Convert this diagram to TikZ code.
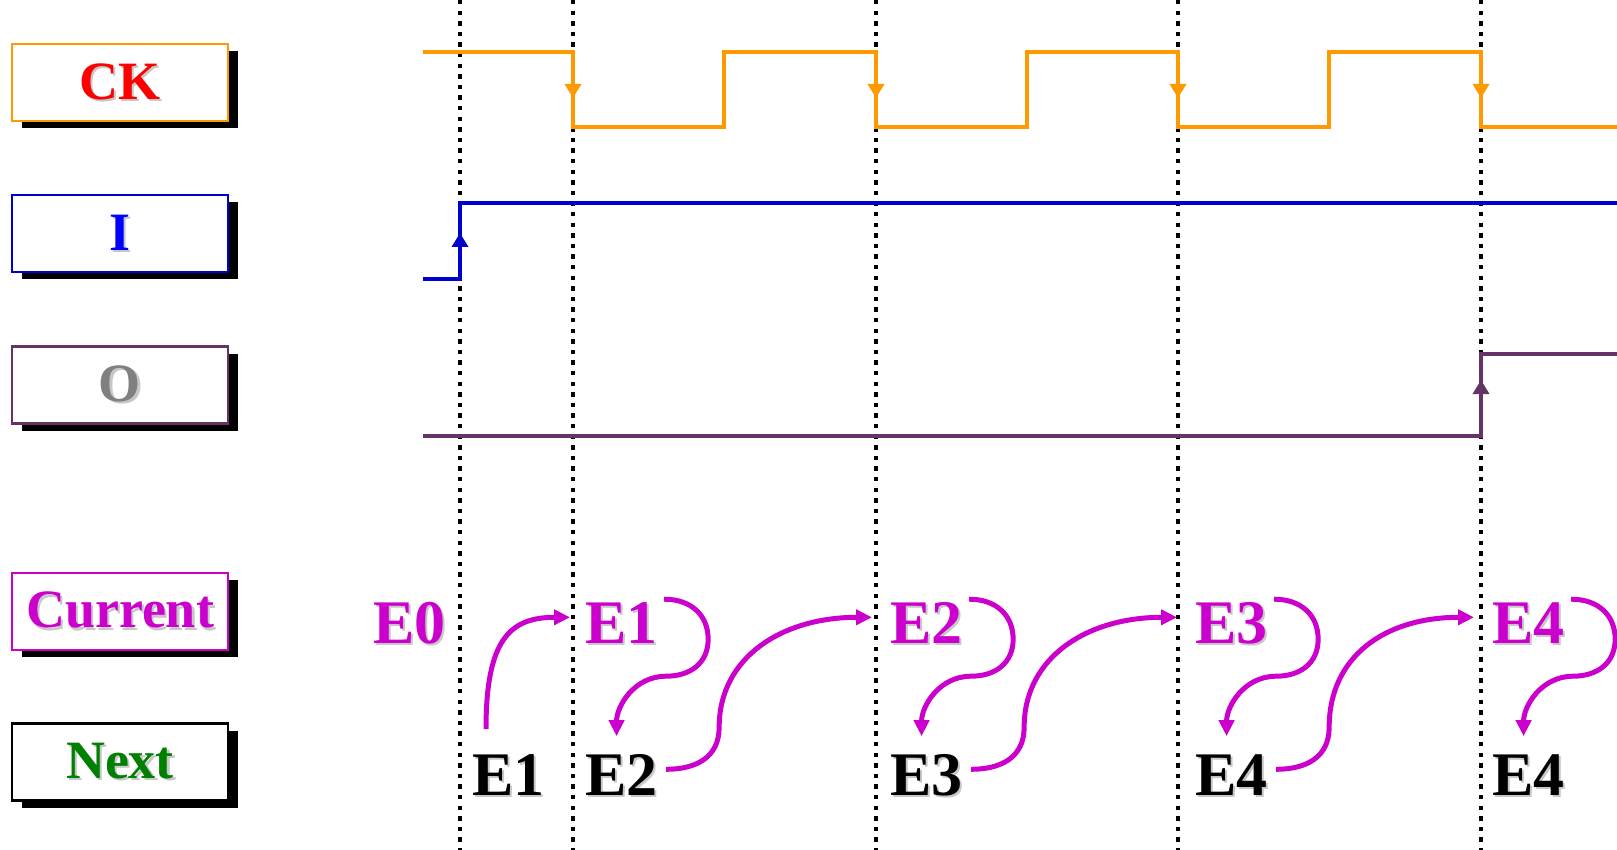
\documentclass[tikz,border=0pt]{standalone}
\usepackage{fontspec}
\setmainfont{Liberation Serif}
\usetikzlibrary{arrows.meta,calc,shadows}
\definecolor{ckorange}{HTML}{FF9900}
\definecolor{inblue}{HTML}{0000CC}
\definecolor{outpurple}{HTML}{663366}
\definecolor{stmag}{HTML}{CC00CC}
\definecolor{nxgreen}{HTML}{008000}
% text with a light grey shadow behind it
\newcommand{\shtxt}[1]{\rlap{\hspace{1.1pt}\raisebox{-1.1pt}{\textcolor{black!22}{#1}}}#1}
\tikzset{
  >=Stealth,
  sig/.style={draw,fill=white,line width=1.4pt,minimum width=108pt,minimum height=38.5pt,
    font=\bfseries\fontsize{27}{27}\selectfont,
    drop shadow={shadow xshift=5pt,shadow yshift=-3.5pt,fill=black,opacity=1}},
  st/.style={anchor=base west,inner sep=0pt,text height=21.7pt,text depth=0pt,
    font=\bfseries\fontsize{31}{31}\selectfont},
  wave/.style={line width=2.4pt},
  edgetip/.style={-{Triangle[width=8pt,length=7pt]}},
  vline/.style={line width=2.4pt,dash pattern=on 2.2pt off 3.1pt},
  flow/.style={stmag,line width=2.5pt,-{Triangle[width=7.5pt,length=8pt]}}
}
\begin{document}
\begin{tikzpicture}[x=0.5pt,y=-0.5pt]
\useasboundingbox (0,0) rectangle (1617,850);
% clock edges
\foreach \x in {460,573,876,1178,1481}
  \draw[vline] (\x,0) -- (\x,850);

% signal names
\node[sig,draw=ckorange,text=red] (ck) at (120,82.5) {\shtxt{CK}};
\node[sig,draw=inblue,text=blue] (in) at (120,233.5) {\shtxt{I}};
\node[sig,draw=outpurple,text=black!50] (out) at (120,385) {\shtxt{O}};
\node[sig,draw=stmag,text=stmag] (cur) at (120,611.5) {\shtxt{Current}};
\node[sig,draw=black,text=nxgreen] (nxt) at (120,762) {\shtxt{Next}};

% waveforms
\draw[wave,ckorange] (423,52) -- (573,52) -- (573,127) -- (724,127) -- (724,52) -- (876,52)
  -- (876,127) -- (1027,127) -- (1027,52) -- (1178,52) -- (1178,127) -- (1329,127)
  -- (1329,52) -- (1481,52) -- (1481,127) -- (1617,127);
\foreach \x in {573,876,1178,1481}
  \draw[wave,ckorange,edgetip] (\x,52) -- (\x,98);
\draw[wave,inblue] (423,279) -- (460,279) -- (460,203) -- (1617,203);
\draw[wave,inblue,edgetip] (460,279) -- (460,233);
\draw[wave,outpurple] (423,436) -- (1481,436) -- (1481,354) -- (1617,354);
\draw[wave,outpurple,edgetip] (1481,436) -- (1481,380);

% states
\node[st,text=stmag] (c0) at (373,643) {\shtxt{E0}};
\node[st,text=stmag] (c1) at (585,643) {\shtxt{E1}};
\node[st,text=stmag] (c2) at (890,643) {\shtxt{E2}};
\node[st,text=stmag] (c3) at (1195,643) {\shtxt{E3}};
\node[st,text=stmag] (c4) at (1492,643) {\shtxt{E4}};
\node[st] (n1) at (472,795) {\shtxt{E1}};
\node[st] (n2) at (585,795) {\shtxt{E2}};
\node[st] (n3) at (890,795) {\shtxt{E3}};
\node[st] (n4) at (1195,795) {\shtxt{E4}};
\node[st] (n5) at (1492,795) {\shtxt{E4}};

% next -> current at the falling edge
\draw[flow] ($(n1.north west)+(14,-22)$) .. controls +(0,-90) and +(-60,0) .. ($(c1.west)+(-15,-4)$);
\foreach \a/\b in {n2/c2,n3/c3,n4/c4}
  \draw[flow] ($(\a.east)+(8,-4)$) .. controls +(30,0) and +(0,30) .. ++(53,-42)
    .. controls +(0,-70) and +(-90,0) .. ($(\b.west)+(-18,-4)$);
% current -> next
\foreach \a/\b in {c1/n2,c2/n3,c3/n4,c4/n5}
  \draw[flow] ($(\a.north east)+(6,0)$) .. controls +(27,0) and +(0,-24) .. ++(44,40)
    .. controls +(0,24) and +(24,0) .. ++(-42,37)
    .. controls +(-32,0) and +(0,-30) .. ($(\b.north)+(-5,-15)$);
\end{tikzpicture}
\end{document}
